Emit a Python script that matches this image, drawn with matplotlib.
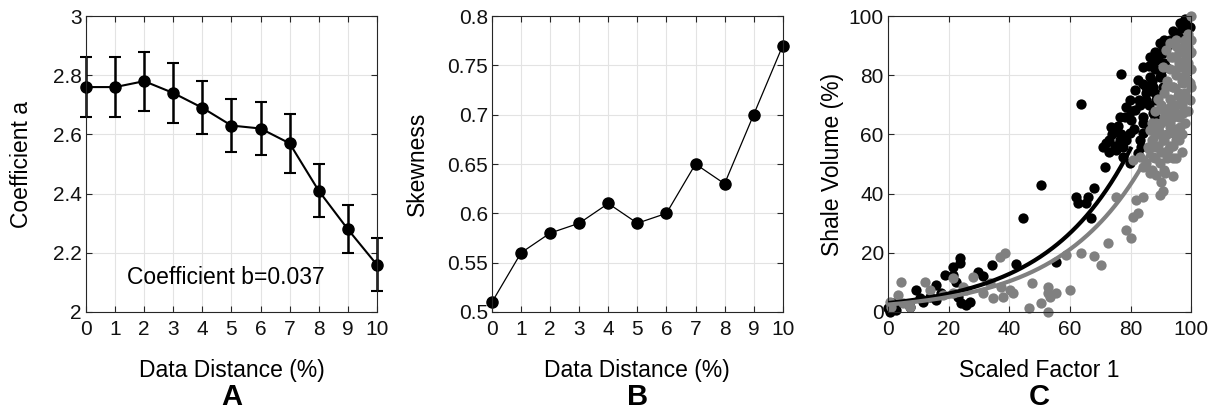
import numpy as np
import matplotlib
matplotlib.use('Agg')
import matplotlib.pyplot as plt

plt.rcParams['font.family'] = ['Liberation Sans', 'DejaVu Sans']

# Panel A: coefficient a vs data distance
distancia = [0, 1, 2, 3, 4, 5, 6, 7, 8, 9, 10]
coef_a = [2.76, 2.76, 2.78, 2.74, 2.69, 2.63, 2.62, 2.57, 2.41, 2.28, 2.16]
coef_a_err = [0.10, 0.10, 0.10, 0.10, 0.09, 0.09, 0.09, 0.10, 0.09, 0.08, 0.09]

# Panel B: skewness
skewness = [0.51, 0.56, 0.58, 0.59, 0.61, 0.59, 0.60, 0.65, 0.63, 0.70, 0.77]

# Panel C: scatter (black and gray groups)
negro_x = [76.7, 63.7, 50.5, 44.5, 42.3, 34.3, 29.7, 31.4, 23.6, 23.6, 21.4, 18.7, 15.9,
           9.1, 21.4, 22.5, 23.0, 24.0, 25.8, 27.0, 11.5, 7.1, 2.7, 0.5, 0.0, 62.1, 62.6,
           65.9, 68.1, 67.0, 55.5, 70.9, 71.4, 73.0, 73.6, 75.3, 76.4, 78.6, 79.7, 81.3,
           80.2, 79.7, 82.9, 83.5, 86.3, 88.5, 89.6, 86.3, 87.4, 85.2, 89.6, 90.7, 91.8,
           95.1, 96.2, 97.8, 99.5, 98.9, 93.9, 84.1, 82.4, 76.4, 77.5, 75.3, 78.6, 79.7,
           81.3, 84.1, 85.2, 90.7, 88.5, 87.4, 84.1, 82.4, 77.5, 65.4, 1.6, 10.4, 13.7,
           15.9, 17.6, 2.7,
           72, 74, 76, 78, 80, 83, 85, 87, 88, 89, 90, 92, 93, 94, 96, 97, 98, 84, 86,
           88, 90, 91, 73, 75, 77, 81, 83, 86, 88, 84, 86, 88, 91]
negro_y = [80.4, 70.2, 42.8, 31.6, 16.1, 15.8, 13.5, 12.3, 18.1, 16.4, 15.3, 12.5, 9.1,
           7.4, 12.5, 10.2, 5.2, 2.9, 2.4, 3.5, 3.5, 1.8, 0.7, 0.1, 1.2, 39.0, 36.7,
           39.0, 41.8, 31.6, 17.0, 55.9, 49.1, 58.1, 62.6, 61.5, 66.0, 69.4, 71.6, 75.0,
           64.9, 50.2, 71.6, 55.9, 86.3, 85.1, 90.8, 79.5, 76.1, 71.6, 79.5, 87.4, 82.9,
           94.1, 97.5, 98.6, 96.4, 93.0, 90.8, 82.9, 78.4, 58.1, 55.9, 54.7, 58.1, 60.4,
           68.2, 66.0, 76.1, 76.1, 71.6, 67.1, 60.4, 53.6, 52.5, 36.7, 2.9, 4.6, 5.2,
           4.1, 6.3, 2.4,
           57, 60, 63, 66, 68, 70, 74, 78, 82, 86, 88, 90, 92, 95, 93, 96, 99, 64, 70,
           74, 80, 84, 54, 56, 60, 62, 58, 62, 66, 77, 83, 88, 92]

gris_x = [100.0, 38.5, 36.8, 4.4, 3.3, 12.1, 13.7, 7.1, 21.4, 28.0, 33.5, 37.4, 40.1,
          41.2, 34.6, 37.9, 31.3, 25.8, 21.4, 18.1, 24.7, 47.6, 46.4, 50.5, 52.7, 52.7,
          53.3, 55.5, 52.7, 59.9, 58.8, 63.7, 68.1, 70.3, 72.5, 75.3, 78.6, 80.2, 80.8,
          82.4, 81.9, 84.1, 80.8, 89.6, 90.7, 88.5, 89.6, 91.2, 93.9, 95.1, 95.6, 86.3,
          85.2, 87.4, 88.5, 90.7, 92.9, 95.1, 96.2, 97.3, 98.4, 99.5, 98.9, 97.3, 95.1,
          92.9, 90.7, 91.8, 93.9, 92.9, 90.7, 88.5, 86.3, 89.6, 92.3, 93.9, 96.2, 97.3,
          98.4, 99.5, 99.5, 97.8, 96.2, 94.5, 95.1, 93.4, 91.8, 84.1, 83.0, 85.8, 0.5,
          1.1, 4.9,
          87, 88, 89, 90, 91, 92, 93, 94, 95, 96, 97, 98, 99, 100, 100, 99, 98, 97, 96,
          95, 94, 93, 92, 91, 90, 89, 88, 87, 86, 94, 95, 96, 97, 98, 99, 100, 92, 93,
          95, 97, 98, 99, 100, 96, 95, 94, 93, 92, 91, 90, 89, 88, 87, 90, 91, 94, 96, 97]
gris_y = [100.0, 19.8, 18.7, 10.2, 5.7, 10.2, 7.4, 1.8, 11.4, 11.9, 9.7, 8.6, 7.4,
          6.3, 4.6, 5.2, 6.3, 7.4, 6.3, 5.7, 8.6, 9.7, 1.2, 2.9, 8.6, 6.3,
          5.2, 6.3, 0.1, 7.4, 19.3, 19.8, 18.9, 15.9, 23.2, 39.0, 27.7, 24.9, 32.2,
          33.3, 37.8, 39.0, 51.4, 39.5, 40.8, 46.3, 50.2, 46.8, 51.9, 58.1, 58.7, 46.8,
          50.2, 52.5, 55.9, 58.1, 62.6, 67.1, 72.7, 77.3, 82.9, 87.4, 89.6, 89.6, 91.9,
          90.8, 82.9, 76.1, 76.1, 69.4, 68.2, 63.7, 61.5, 60.4, 54.7, 60.4, 62.6, 67.1,
          72.7, 77.3, 71.6, 85.1, 82.9, 81.8, 86.3, 86.3, 88.5, 49.1, 52.5, 55.9, 3.5,
          1.8, 2.9,
          48, 52, 56, 54, 58, 60, 64, 66, 70, 74, 78, 80, 84, 88, 92, 94, 92, 88, 84,
          80, 76, 72, 68, 66, 64, 62, 60, 58, 55, 56, 62, 66, 70, 74, 78, 82, 52, 56,
          52, 60, 64, 68, 76, 88, 90, 86, 82, 78, 74, 70, 72, 68, 64, 44, 48, 46, 58, 54]

# ajuste exponencial y = a*exp(b*x) para cada grupo
ajuste_a = [3.0, 2.5]
ajuste_b = [0.0364, 0.0356]
ajuste_xmax = [80, 100]

NEGRO = '#000000'
GRIS = '#808080'
fs_tick = 15
fs_label = 16.5
fs_letra = 21


def estilo_matlab(ax):
    ax.grid(True, color='#e3e3e3', linewidth=0.8)
    ax.set_axisbelow(True)
    ax.tick_params(direction='in', top=True, right=True, length=4, width=0.8,
                   labelsize=fs_tick, colors='#262626', labelcolor='#111111')
    ax.tick_params(axis='x', pad=6)
    ax.tick_params(axis='y', pad=3)
    for s in ax.spines.values():
        s.set_color('#262626')
        s.set_linewidth(0.8)


fig = plt.figure(figsize=(12.19, 4.18), dpi=100)
ax1 = fig.add_axes([0.0706, 0.2536, 0.2385, 0.708])
ax2 = fig.add_axes([0.4036, 0.2536, 0.2385, 0.708])
ax3 = fig.add_axes([0.7285, 0.2536, 0.2487, 0.708])

# A
estilo_matlab(ax1)
ax1.errorbar(distancia, coef_a, yerr=coef_a_err, color=NEGRO, lw=1.5, marker='o',
             markersize=8, elinewidth=1.8, capsize=4, capthick=1.5, clip_on=False)
ax1.set_xlim(0, 10)
ax1.set_ylim(2, 3)
ax1.set_xticks(distancia)
ax1.set_yticks([2, 2.2, 2.4, 2.6, 2.8, 3])
ax1.set_yticklabels(['2', '2.2', '2.4', '2.6', '2.8', '3'])
ax1.text(4.8, 2.115, 'Coefficient b=0.037', fontsize=fs_label, ha='center', va='center')
ax1.set_xlabel('Data Distance (%)', fontsize=fs_label, labelpad=14)
ax1.set_ylabel('Coefficient a', fontsize=fs_label, va='center')
ax1.yaxis.set_label_coords(-0.222, 0.5)

# B
estilo_matlab(ax2)
ax2.plot(distancia, skewness, color=NEGRO, lw=0.9, marker='o', markersize=8, clip_on=False)
ax2.set_xlim(0, 10)
ax2.set_ylim(0.5, 0.8)
ax2.set_xticks(distancia)
ax2.set_yticks([0.5, 0.55, 0.6, 0.65, 0.7, 0.75, 0.8])
ax2.set_yticklabels(['0.5', '0.55', '0.6', '0.65', '0.7', '0.75', '0.8'])
ax2.set_xlabel('Data Distance (%)', fontsize=fs_label, labelpad=14)
ax2.set_ylabel('Skewness', fontsize=fs_label, va='center')
ax2.yaxis.set_label_coords(-0.255, 0.5)

# C
estilo_matlab(ax3)
ax3.scatter(negro_x, negro_y, s=55, color=NEGRO, linewidths=0, clip_on=False, zorder=2)
ax3.scatter(gris_x, gris_y, s=55, color=GRIS, linewidths=0, clip_on=False, zorder=2)
for a, b, xm, c in zip(ajuste_a, ajuste_b, ajuste_xmax, [NEGRO, GRIS]):
    xx = np.linspace(0, xm, 200)
    ax3.plot(xx, a * np.exp(b * xx), color=c, lw=3, zorder=3)
ax3.set_xlim(0, 100)
ax3.set_ylim(0, 100)
ax3.set_xticks([0, 20, 40, 60, 80, 100])
ax3.set_yticks([0, 20, 40, 60, 80, 100])
ax3.set_xlabel('Scaled Factor 1', fontsize=fs_label, labelpad=14)
ax3.set_ylabel('Shale Volume (%)', fontsize=fs_label, va='center')
ax3.yaxis.set_label_coords(-0.182, 0.5)

# letras de los paneles
for ax, letra in zip([ax1, ax2, ax3], ['A', 'B', 'C']):
    pos = ax.get_position()
    fig.text(pos.x0 + pos.width / 2, 1 - 397 / 418, letra, fontsize=fs_letra,
             fontweight='bold', ha='center', va='center')

fig.savefig('out.png', dpi=100)
